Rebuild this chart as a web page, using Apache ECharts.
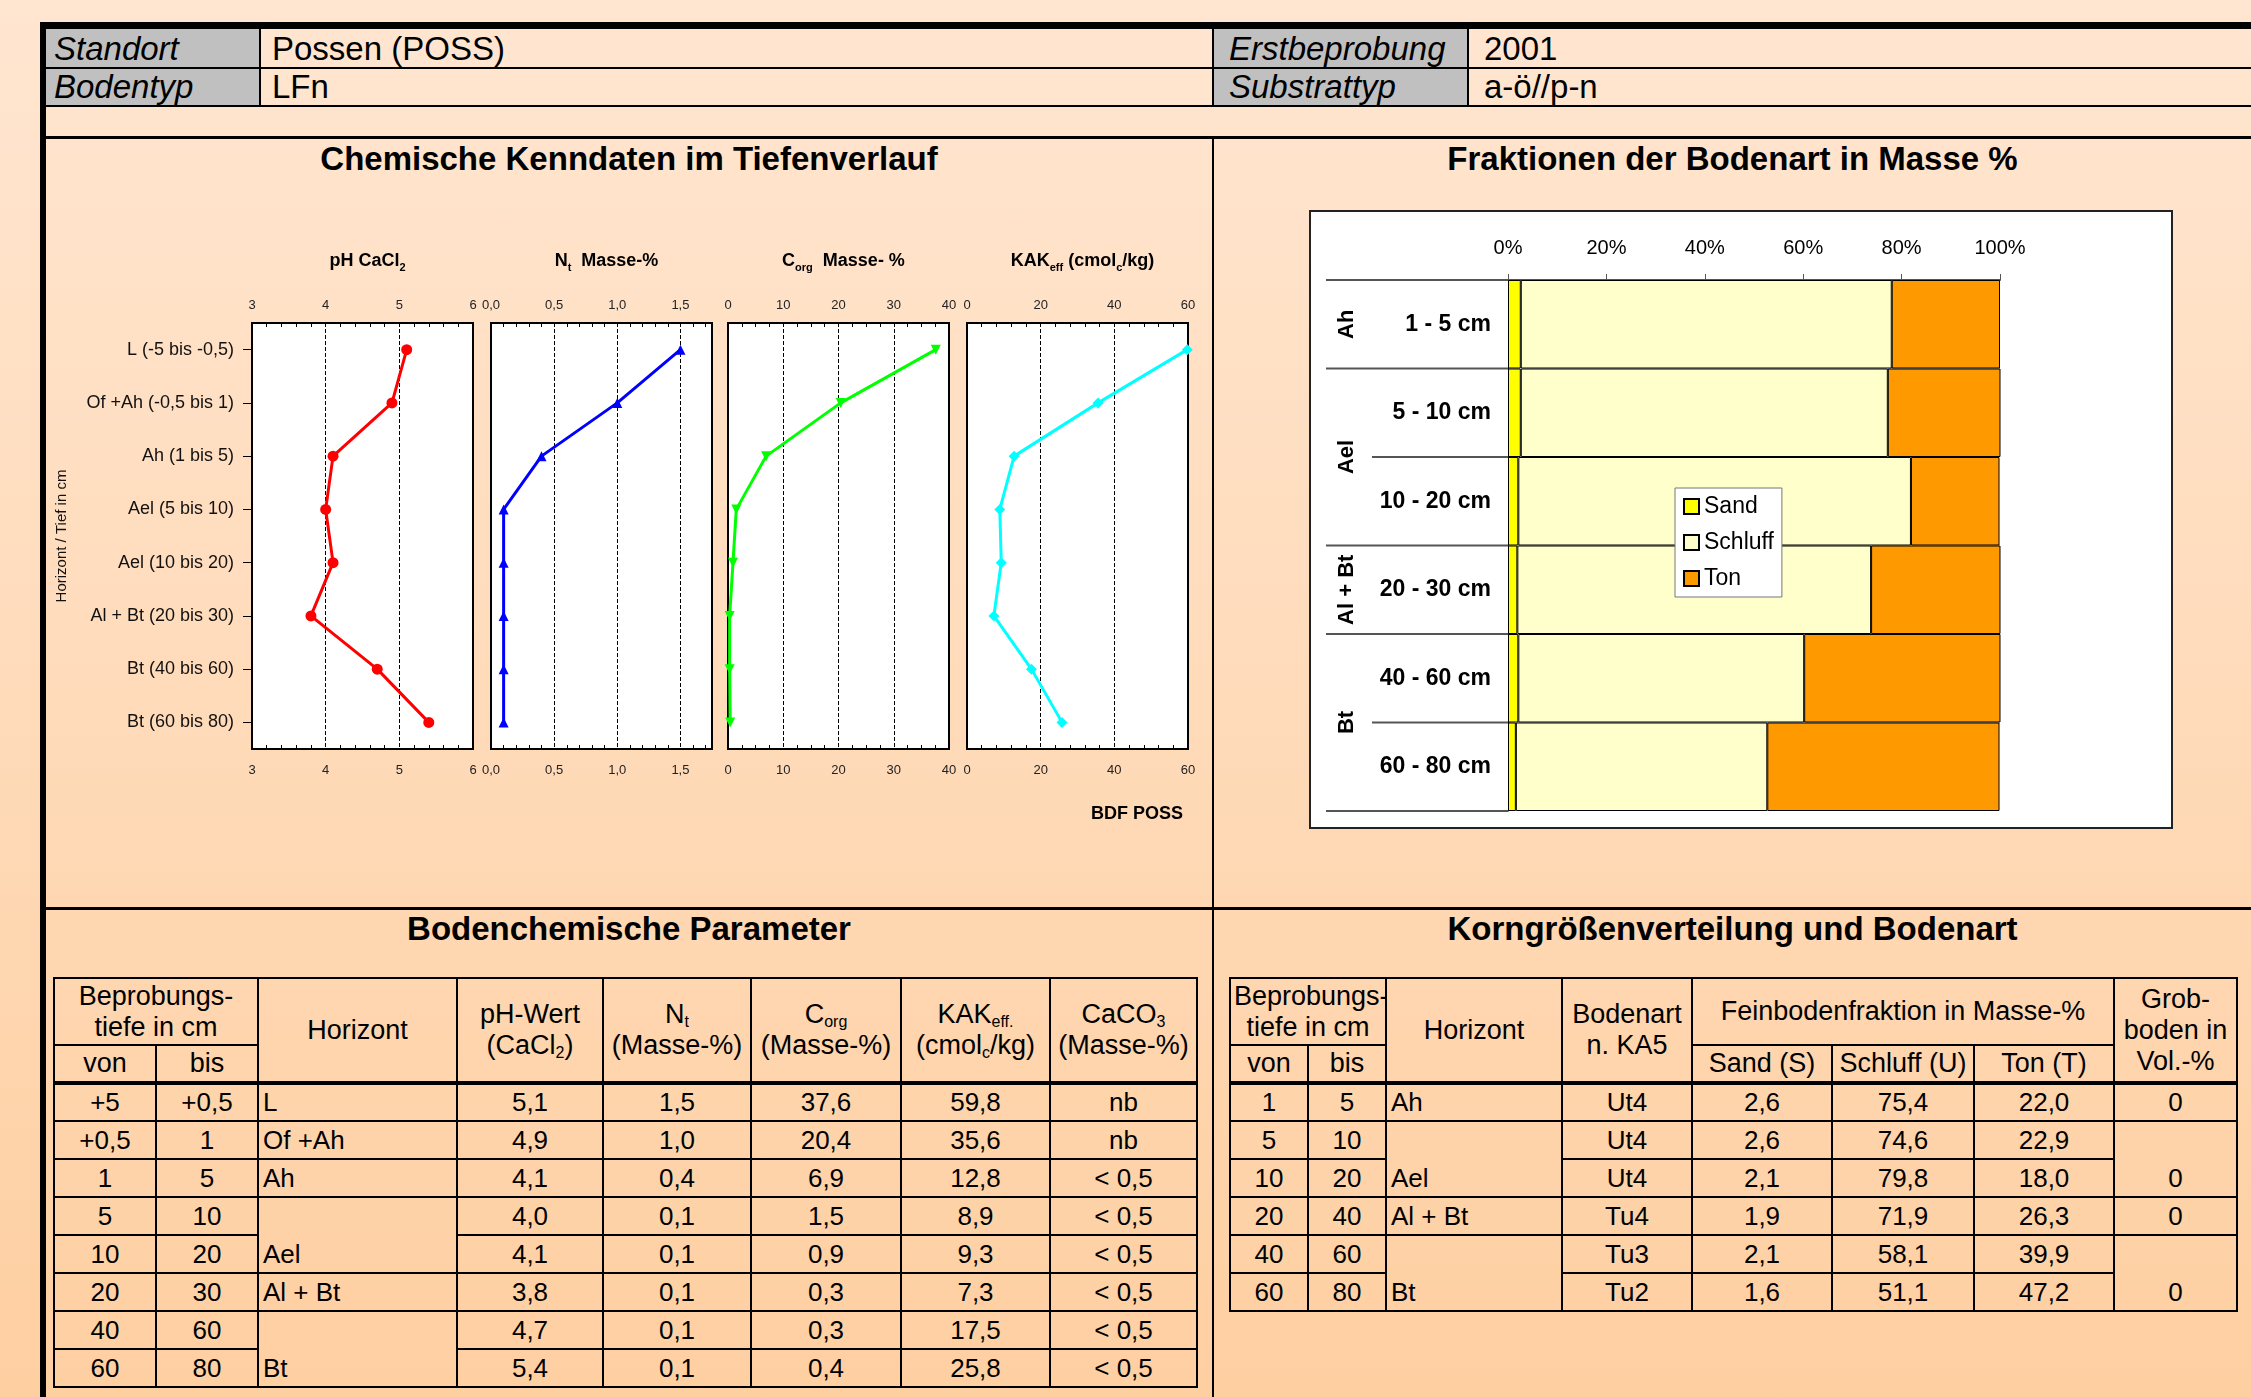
<!DOCTYPE html>
<html>
<head>
<meta charset="utf-8">
<script src="https://cdn.jsdelivr.net/npm/echarts@6/dist/echarts.min.js"></script>
<style>
  html, body { margin: 0; padding: 0; }
  body {
    width: 2251px; height: 1397px; position: relative; overflow: hidden;
    font-family: "Liberation Sans", Arial, sans-serif; color: #000;
    background: linear-gradient(#ffe6d1 0%, #ffdcbc 45%, #fecfa1 100%);
  }
  .ln { position: absolute; background: #000; }
  .gray { position: absolute; background: #c0c0c0; }
  .hd { position: absolute; font-size: 33px; line-height: 38px; white-space: nowrap; }
  .hd i { font-style: italic; }
  .sec { position: absolute; font-size: 33px; font-weight: bold; text-align: center; line-height: 40px; }
  .chart { position: absolute; }
  .tb { position: absolute; border-collapse: collapse; table-layout: fixed; font-size: 26px; }
  .tb td, .tb th {
    border: 2px solid #000; padding: 0 3px; text-align: center; font-weight: normal;
    line-height: 31px; vertical-align: middle; white-space: nowrap; overflow: hidden;
  }
  .tb th { font-size: 27px; }
  .tb tr { height: 38px; }
  .tb tr.first td { border-top: 4px solid #000; }
  .tb td.hz { text-align: left; padding-left: 4px; }
  .tb td.bottom { vertical-align: bottom; padding-bottom: 2px; }
  .tb sub { font-size: 16px; line-height: 0; vertical-align: -4px; }
</style>
</head>
<body>

<!-- frame lines -->
<div class="ln" style="left:40px;top:22px;width:2211px;height:7px"></div>
<div class="ln" style="left:40px;top:22px;width:6px;height:1375px"></div>
<div class="gray" style="left:46px;top:29px;width:213px;height:38px"></div>
<div class="gray" style="left:46px;top:69px;width:213px;height:36px"></div>
<div class="gray" style="left:1214px;top:29px;width:253px;height:38px"></div>
<div class="gray" style="left:1214px;top:69px;width:253px;height:36px"></div>
<div class="ln" style="left:46px;top:67px;width:2205px;height:2px"></div>
<div class="ln" style="left:46px;top:105px;width:2205px;height:2px"></div>
<div class="ln" style="left:46px;top:136px;width:2205px;height:3px"></div>
<div class="ln" style="left:259px;top:29px;width:2px;height:77px"></div>
<div class="ln" style="left:1212px;top:29px;width:2px;height:77px"></div>
<div class="ln" style="left:1467px;top:29px;width:2px;height:77px"></div>
<div class="ln" style="left:1212px;top:138px;width:2px;height:1259px"></div>
<div class="ln" style="left:46px;top:907px;width:2205px;height:3px"></div>

<!-- header -->
<div class="hd" style="left:54px;top:30px"><i>Standort</i></div>
<div class="hd" style="left:272px;top:30px">Possen (POSS)</div>
<div class="hd" style="left:1229px;top:30px"><i>Erstbeprobung</i></div>
<div class="hd" style="left:1484px;top:30px">2001</div>
<div class="hd" style="left:54px;top:68px"><i>Bodentyp</i></div>
<div class="hd" style="left:272px;top:68px">LFn</div>
<div class="hd" style="left:1229px;top:68px"><i>Substrattyp</i></div>
<div class="hd" style="left:1484px;top:68px">a-ö//p-n</div>

<div class="sec" style="left:46px;top:139px;width:1166px">Chemische Kenndaten im Tiefenverlauf</div>
<div class="sec" style="left:1214px;top:139px;width:1037px">Fraktionen der Bodenart in Masse %</div>
<div class="sec" style="left:46px;top:909px;width:1166px">Bodenchemische Parameter</div>
<div class="sec" style="left:1214px;top:909px;width:1037px">Korngrößenverteilung und Bodenart</div>

<div id="chem-chart" class="chart" style="left:46px;top:180px;width:1160px;height:720px"></div>
<div id="fraction-chart" class="chart" style="left:1309px;top:210px;width:860px;height:615px;background:#fff;border:2px solid #222"></div>

<table id="chem-table" class="tb" style="left:53px;top:977px;width:1143px">
  <colgroup>
    <col style="width:102px"><col style="width:102px"><col style="width:199px"><col style="width:146px">
    <col style="width:148px"><col style="width:150px"><col style="width:149px"><col style="width:147px">
  </colgroup>
  <thead>
    <tr style="height:67px">
      <th colspan="2">Beprobungs-<br>tiefe in cm</th>
      <th rowspan="2">Horizont</th>
      <th rowspan="2">pH-Wert<br>(CaCl<sub>2</sub>)</th>
      <th rowspan="2">N<sub>t</sub><br>(Masse-%)</th>
      <th rowspan="2">C<sub>org</sub><br>(Masse-%)</th>
      <th rowspan="2">KAK<sub>eff.</sub><br>(cmol<sub>c</sub>/kg)</th>
      <th rowspan="2">CaCO<sub>3</sub><br>(Masse-%)</th>
    </tr>
    <tr><th>von</th><th>bis</th></tr>
  </thead>
  <tbody></tbody>
</table>

<table id="grain-table" class="tb" style="left:1229px;top:977px;width:1007px">
  <colgroup>
    <col style="width:78px"><col style="width:78px"><col style="width:176px"><col style="width:130px">
    <col style="width:140px"><col style="width:142px"><col style="width:140px"><col style="width:123px">
  </colgroup>
  <thead>
    <tr style="height:67px">
      <th colspan="2">Beprobungs-<br>tiefe in cm</th>
      <th rowspan="2">Horizont</th>
      <th rowspan="2">Bodenart<br>n. KA5</th>
      <th colspan="3">Feinbodenfraktion in Masse-%</th>
      <th rowspan="2">Grob-<br>boden in<br>Vol.-%</th>
    </tr>
    <tr><th>von</th><th>bis</th><th>Sand (S)</th><th>Schluff (U)</th><th>Ton (T)</th></tr>
  </thead>
  <tbody></tbody>
</table>

<script>
// --- chemistry data (one value per sampled horizon) ---
const horizonLabels = [
  "L (-5 bis -0,5)", "Of +Ah (-0,5 bis 1)", "Ah (1 bis 5)", "Ael (5 bis 10)",
  "Ael (10 bis 20)", "Al + Bt (20 bis 30)", "Bt (40 bis 60)", "Bt (60 bis 80)",
];
const chemFrom = ["+5", "+0,5", "1", "5", "10", "20", "40", "60"];
const chemTo = ["+0,5", "1", "5", "10", "20", "30", "60", "80"];
const chemHorizonNames = ["L", "Of +Ah", "Ah", "Ael", "Al + Bt", "Bt"];
const chemHorizonRows = [1, 1, 1, 2, 1, 2];
const phValues = [5.1, 4.9, 4.1, 4.0, 4.1, 3.8, 4.7, 5.4];
const ntValues = [1.5, 1.0, 0.4, 0.1, 0.1, 0.1, 0.1, 0.1];
const corgValues = [37.6, 20.4, 6.9, 1.5, 0.9, 0.3, 0.3, 0.4];
const kakValues = [59.8, 35.6, 12.8, 8.9, 9.3, 7.3, 17.5, 25.8];
const caco3Values = ["nb", "nb", "< 0,5", "< 0,5", "< 0,5", "< 0,5", "< 0,5", "< 0,5"];

// --- grain size data ---
const depthLabels = ["1 - 5 cm", "5 - 10 cm", "10 - 20 cm", "20 - 30 cm", "40 - 60 cm", "60 - 80 cm"];
const grainFrom = ["1", "5", "10", "20", "40", "60"];
const grainTo = ["5", "10", "20", "40", "60", "80"];
const groupNames = ["Ah", "Ael", "Al + Bt", "Bt"];
const groupRows = [1, 2, 1, 2];
const soilTypes = ["Ut4", "Ut4", "Ut4", "Tu4", "Tu3", "Tu2"];
const sandValues = [2.6, 2.6, 2.1, 1.9, 2.1, 1.6];
const siltValues = [75.4, 74.6, 79.8, 71.9, 58.1, 51.1];
const clayValues = [22.0, 22.9, 18.0, 26.3, 39.9, 47.2];
const gravelValues = ["0", "0", "0", "0"];

const comma = (v) => v.toFixed(1).replace(".", ",");

// --- tables ---
function fillChemTable() {
  const body = document.querySelector("#chem-table tbody");
  let html = "";
  let group = 0;
  let groupStart = 0;
  for (let i = 0; i < phValues.length; i++) {
    html += `<tr${i === 0 ? ' class="first"' : ""}><td>${chemFrom[i]}</td><td>${chemTo[i]}</td>`;
    if (i === groupStart) {
      const span = chemHorizonRows[group];
      html += `<td class="hz${span > 1 ? " bottom" : ""}" rowspan="${span}">${chemHorizonNames[group]}</td>`;
      groupStart += span;
      group++;
    }
    html += `<td>${comma(phValues[i])}</td><td>${comma(ntValues[i])}</td><td>${comma(corgValues[i])}</td>`;
    html += `<td>${comma(kakValues[i])}</td><td>${caco3Values[i]}</td></tr>`;
  }
  body.innerHTML = html;
}

function fillGrainTable() {
  const body = document.querySelector("#grain-table tbody");
  let html = "";
  let group = 0;
  let groupStart = 0;
  for (let i = 0; i < sandValues.length; i++) {
    html += `<tr${i === 0 ? ' class="first"' : ""}><td>${grainFrom[i]}</td><td>${grainTo[i]}</td>`;
    let lastCell = "";
    if (i === groupStart) {
      const span = groupRows[group];
      const cls = span > 1 ? " bottom" : "";
      html += `<td class="hz${cls}" rowspan="${span}">${groupNames[group]}</td>`;
      lastCell = `<td class="${cls}" rowspan="${span}">${gravelValues[group]}</td>`;
      groupStart += span;
      group++;
    }
    html += `<td>${soilTypes[i]}</td><td>${comma(sandValues[i])}</td><td>${comma(siltValues[i])}</td>`;
    html += `<td>${comma(clayValues[i])}</td>${lastCell}</tr>`;
  }
  body.innerHTML = html;
}

fillChemTable();
fillGrainTable();

// --- depth profiles ---
const chemChart = echarts.init(document.getElementById("chem-chart"));

const panels = [
  { title: "{a|pH CaCl}{s|2}", values: phValues, min: 3, max: 6, interval: 1, minor: 5, color: "#ff0000", symbol: "circle", size: 11, rotate: 0, fmt: (v) => String(v) },
  { title: "{a|N}{s|t}{a|  Masse-%}", values: ntValues, min: 0, max: 1.75, interval: 0.5, minor: 5, color: "#0000ff", symbol: "triangle", size: 10, rotate: 0, fmt: comma },
  { title: "{a|C}{s|org}{a|  Masse- %}", values: corgValues, min: 0, max: 40, interval: 10, minor: 4, color: "#00ff00", symbol: "triangle", size: 10, rotate: 180, fmt: (v) => String(v) },
  { title: "{a|KAK}{s|eff}{a| (cmol}{s|c}{a|/kg)}", values: kakValues, min: 0, max: 60, interval: 20, minor: 5, color: "#00ffff", symbol: "diamond", size: 11, rotate: 0, fmt: (v) => String(v) },
];
const panelLefts = [206, 445, 682, 921];
const panelWidth = 221;

const grids = [];
const xAxes = [];
const topAxes = [];
const yAxes = [];
const lineSeries = [];
const titles = [];

panels.forEach((p, i) => {
  grids.push({
    left: panelLefts[i], top: 143, width: panelWidth, height: 426,
    show: true, backgroundColor: "#fff", borderColor: "#000", borderWidth: 2,
  });
  const labelBase = {
    fontSize: 13, color: "#222", formatter: p.fmt,
    showMaxLabel: p.max === p.interval * Math.round(p.max / p.interval),
  };
  const axisBase = {
    gridIndex: i, type: "value", min: p.min, max: p.max, interval: p.interval,
    axisLine: { show: false },
    axisTick: { inside: true, length: 7, lineStyle: { color: "#000", width: 1 } },
    minorTick: { show: true, splitNumber: p.minor, length: 4, lineStyle: { color: "#000", width: 1 } },
  };
  xAxes.push(Object.assign({}, axisBase, {
    position: "bottom",
    axisLabel: Object.assign({ margin: 15 }, labelBase),
    splitLine: { show: true, lineStyle: { color: "#000", width: 1, type: [4, 2] } },
  }));
  topAxes.push(Object.assign({}, axisBase, {
    position: "top",
    axisLabel: Object.assign({ margin: 11 }, labelBase),
    splitLine: { show: false },
  }));
  yAxes.push({
    gridIndex: i, type: "category", data: horizonLabels, inverse: true,
    axisLine: { show: false },
    axisTick: { show: i === 0, alignWithLabel: true, length: 9, lineStyle: { color: "#000" } },
    axisLabel: { show: i === 0, fontSize: 18, color: "#111", margin: 18 },
    name: i === 0 ? "Horizont / Tief in cm" : "",
    nameLocation: "middle", nameGap: 183,
    nameTextStyle: { fontSize: 15, color: "#111" },
  });
  lineSeries.push({
    type: "line", xAxisIndex: i, yAxisIndex: i, data: p.values,
    symbol: p.symbol, symbolSize: p.size, symbolRotate: p.rotate,
    lineStyle: { color: p.color, width: 3 },
    itemStyle: { color: p.color },
  });
  titles.push({
    text: p.title, left: panelLefts[i] + panelWidth / 2, top: 64, textAlign: "center",
    textStyle: {
      rich: {
        a: { fontSize: 18, fontWeight: "bold", color: "#000", lineHeight: 24 },
        s: { fontSize: 11, fontWeight: "bold", color: "#000", lineHeight: 10, verticalAlign: "bottom" },
      },
    },
  });
});

titles.push({
  text: "BDF POSS", right: 18, top: 620,
  textStyle: { fontSize: 18, fontWeight: "bold", color: "#000" },
});

chemChart.setOption({
  animation: false,
  title: titles,
  grid: grids,
  xAxis: xAxes.concat(topAxes),
  yAxis: yAxes,
  series: lineSeries,
});

// --- grain size fractions ---
const fractionChart = echarts.init(document.getElementById("fraction-chart"));

const barBase = {
  type: "bar", stack: "total", barCategoryGap: "0%",
};

fractionChart.setOption({
  animation: false,
  grid: { left: 197, top: 68, width: 492, height: 531 },
  legend: {
    data: ["Sand", "Schluff", "Ton"], orient: "vertical", left: 364, top: 276, z: 10,
    backgroundColor: "#fff", borderColor: "#777", borderWidth: 1, padding: [7, 8],
    itemWidth: 15, itemHeight: 15, itemGap: 13, icon: "rect",
    textStyle: { fontSize: 23, color: "#000" },
  },
  xAxis: {
    type: "value", position: "top", min: 0, max: 100, interval: 20,
    axisLine: { show: true, lineStyle: { color: "#555", width: 2 } },
    axisTick: { show: true, length: 6, lineStyle: { color: "#555" } },
    splitLine: { show: false },
    axisLabel: { formatter: "{value}%", fontSize: 20, color: "#000", margin: 22 },
  },
  yAxis: {
    type: "category", data: depthLabels, inverse: true,
    axisLine: { show: true, lineStyle: { color: "#000", width: 1 } },
    axisTick: { show: false },
    axisLabel: { fontSize: 23, fontWeight: "bold", color: "#000", margin: 17 },
  },
  series: [
    Object.assign({ name: "Sand", data: sandValues }, barBase, { itemStyle: { color: "#ffff00", borderColor: "#000", borderWidth: 1 } }),
    Object.assign({ name: "Schluff", data: siltValues }, barBase, { itemStyle: { color: "#ffffcc", borderColor: "#000", borderWidth: 1 } }),
    Object.assign({ name: "Ton", data: clayValues }, barBase, { itemStyle: { color: "#ff9900", borderColor: "#000", borderWidth: 1 } }),
  ],
});

// separators and horizon names left of the depth labels, placed from the category axis
function drawHorizonGroups() {
  const y0 = fractionChart.convertToPixel({ yAxisIndex: 0 }, 0);
  const y1 = fractionChart.convertToPixel({ yAxisIndex: 0 }, 1);
  const band = y1 - y0;
  const xZero = fractionChart.convertToPixel({ xAxisIndex: 0 }, 0);
  const boundaryY = (row) => y0 + (row - 0.5) * band;

  const elements = [];
  const groupBounds = [0];
  groupRows.forEach((n) => groupBounds.push(groupBounds[groupBounds.length - 1] + n));

  for (let row = 0; row <= depthLabels.length; row++) {
    const isGroupEdge = groupBounds.includes(row);
    elements.push({
      type: "line", silent: true, z: 1,
      shape: { x1: isGroupEdge ? 15 : 61, y1: boundaryY(row), x2: xZero, y2: boundaryY(row) },
      style: { stroke: "#555", lineWidth: 2 },
    });
  }

  groupNames.forEach((name, g) => {
    const mid = (boundaryY(groupBounds[g]) + boundaryY(groupBounds[g + 1])) / 2;
    elements.push({
      type: "text", silent: true, x: 36, y: mid, rotation: Math.PI / 2,
      style: { text: name, fontSize: 22, fontWeight: "bold", fill: "#000", align: "center", verticalAlign: "middle" },
    });
  });

  fractionChart.setOption({ graphic: elements });
}

drawHorizonGroups();
</script>
</body>
</html>
